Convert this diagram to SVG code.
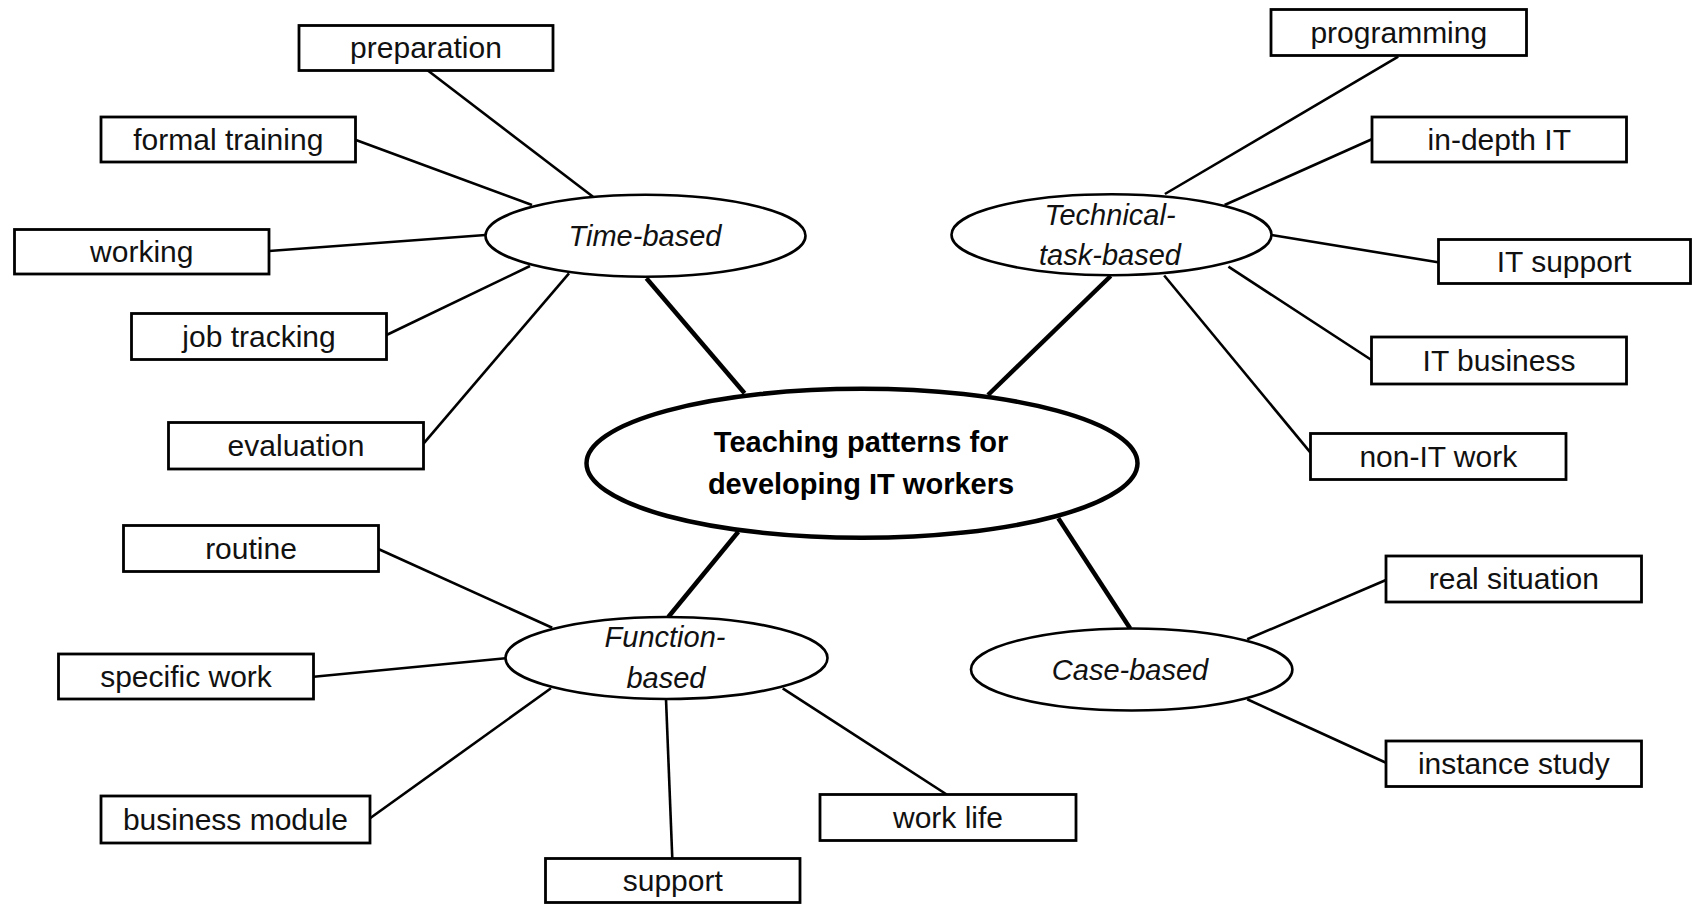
<svg xmlns="http://www.w3.org/2000/svg" width="1692" height="904" viewBox="0 0 1692 904">
<style>
.bg{fill:#ffffff}
.box{fill:#ffffff;stroke:#000;stroke-width:2.8}
.sub{fill:#ffffff;stroke:#000;stroke-width:2.6}
.main{fill:#ffffff;stroke:#000;stroke-width:4.5}
.ln{stroke:#000;stroke-width:2.6;fill:none}
.thick{stroke:#000;stroke-width:4.5;fill:none}
.t{font-family:"Liberation Sans",Arial,sans-serif;font-size:30px;fill:#111;text-anchor:middle}
.it{font-family:"Liberation Sans",Arial,sans-serif;font-size:29px;font-style:italic;fill:#111;text-anchor:middle}
.b{font-family:"Liberation Sans",Arial,sans-serif;font-size:29px;font-weight:bold;fill:#000;text-anchor:middle}
</style>
<rect class="bg" x="0" y="0" width="1692" height="904"/>
<g id="connectors">
<line class="ln" x1="427.5" y1="70.3" x2="593" y2="196.7"/>
<line class="ln" x1="355.9" y1="140" x2="532" y2="205"/>
<line class="ln" x1="269" y1="251" x2="485.5" y2="235"/>
<line class="ln" x1="386.5" y1="335" x2="530" y2="266"/>
<line class="ln" x1="423.7" y1="443.3" x2="569" y2="273.3"/>
<line class="thick" x1="646.4" y1="278.3" x2="744.6" y2="393.3"/>
<line class="thick" x1="1110.7" y1="276" x2="988" y2="395"/>
<line class="ln" x1="1398.2" y1="56.7" x2="1164.9" y2="194"/>
<line class="ln" x1="1371.8" y1="139.3" x2="1224.6" y2="205"/>
<line class="ln" x1="1271.5" y1="235" x2="1438" y2="262.3"/>
<line class="ln" x1="1228.4" y1="266.7" x2="1371.5" y2="360"/>
<line class="ln" x1="1164.2" y1="275.5" x2="1310.5" y2="452.7"/>
<line class="thick" x1="738.3" y1="531.7" x2="668.3" y2="617"/>
<line class="thick" x1="1058.3" y1="518.3" x2="1130.2" y2="628.5"/>
<line class="ln" x1="378.9" y1="549.3" x2="552.2" y2="627.7"/>
<line class="ln" x1="313.8" y1="676.7" x2="505.5" y2="658.3"/>
<line class="ln" x1="370" y1="818.3" x2="551" y2="688.3"/>
<line class="ln" x1="666" y1="699" x2="672.3" y2="858.5"/>
<line class="ln" x1="782.7" y1="688.3" x2="946.7" y2="794.5"/>
<line class="ln" x1="1386" y1="580" x2="1247.2" y2="639.3"/>
<line class="ln" x1="1247.2" y1="699.3" x2="1386" y2="762.7"/>
</g>
<g id="center"><ellipse class="main" cx="862" cy="463.3" rx="275.5" ry="74.5"/><text class="b" x="861" y="452">Teaching patterns for</text><text class="b" x="861" y="493.5">developing IT workers</text></g>
<g id="time-based"><ellipse class="sub" cx="645.5" cy="235.8" rx="160" ry="41"/><text class="it" x="645" y="246">Time-based</text></g>
<g id="technical-task-based"><ellipse class="sub" cx="1111.5" cy="234.7" rx="160" ry="40.5"/><text class="it" x="1110" y="225">Technical-</text><text class="it" x="1110" y="265">task-based</text></g>
<g id="function-based"><ellipse class="sub" cx="666.5" cy="658" rx="161" ry="41"/><text class="it" x="665" y="646.5">Function-</text><text class="it" x="666" y="688.3">based</text></g>
<g id="case-based"><ellipse class="sub" cx="1131.7" cy="669.5" rx="160.7" ry="41"/><text class="it" x="1130" y="679.5">Case-based</text></g>
<g id="preparation"><rect class="box" x="299" y="25.5" width="254" height="45"/><text class="t" x="426" y="58">preparation</text></g>
<g id="formal-training"><rect class="box" x="101" y="117" width="254.5" height="45"/><text class="t" x="228.3" y="149.5">formal training</text></g>
<g id="working"><rect class="box" x="14.5" y="229.5" width="254.5" height="44.5"/><text class="t" x="141.8" y="261.8">working</text></g>
<g id="job-tracking"><rect class="box" x="131.5" y="313.5" width="255" height="46"/><text class="t" x="259" y="346.5">job tracking</text></g>
<g id="evaluation"><rect class="box" x="168.5" y="422.5" width="255" height="46.5"/><text class="t" x="296" y="455.8">evaluation</text></g>
<g id="programming"><rect class="box" x="1271" y="9.5" width="255.5" height="46"/><text class="t" x="1398.8" y="42.5">programming</text></g>
<g id="in-depth-it"><rect class="box" x="1372" y="117" width="254.5" height="45"/><text class="t" x="1499.3" y="149.5">in-depth IT</text></g>
<g id="it-support"><rect class="box" x="1438.5" y="239.5" width="252" height="44"/><text class="t" x="1564" y="271.5">IT support</text></g>
<g id="it-business"><rect class="box" x="1371.5" y="337" width="255" height="47"/><text class="t" x="1499" y="370.5">IT business</text></g>
<g id="non-it-work"><rect class="box" x="1310.5" y="433.5" width="255.5" height="46"/><text class="t" x="1438.3" y="466.5">non-IT work</text></g>
<g id="routine"><rect class="box" x="123.5" y="525.5" width="255" height="46"/><text class="t" x="251" y="559">routine</text></g>
<g id="specific-work"><rect class="box" x="58.5" y="654" width="255" height="45"/><text class="t" x="186" y="686.5">specific work</text></g>
<g id="business-module"><rect class="box" x="101" y="796" width="269" height="47"/><text class="t" x="235.5" y="829.5">business module</text></g>
<g id="support"><rect class="box" x="545.5" y="858.5" width="254.5" height="44"/><text class="t" x="672.8" y="890.5">support</text></g>
<g id="work-life"><rect class="box" x="820" y="794.5" width="256" height="46"/><text class="t" x="948" y="827.5">work life</text></g>
<g id="real-situation"><rect class="box" x="1386" y="556" width="255.5" height="46"/><text class="t" x="1513.8" y="589">real situation</text></g>
<g id="instance-study"><rect class="box" x="1386" y="741" width="255.5" height="45.5"/><text class="t" x="1513.8" y="774">instance study</text></g>
</svg>
